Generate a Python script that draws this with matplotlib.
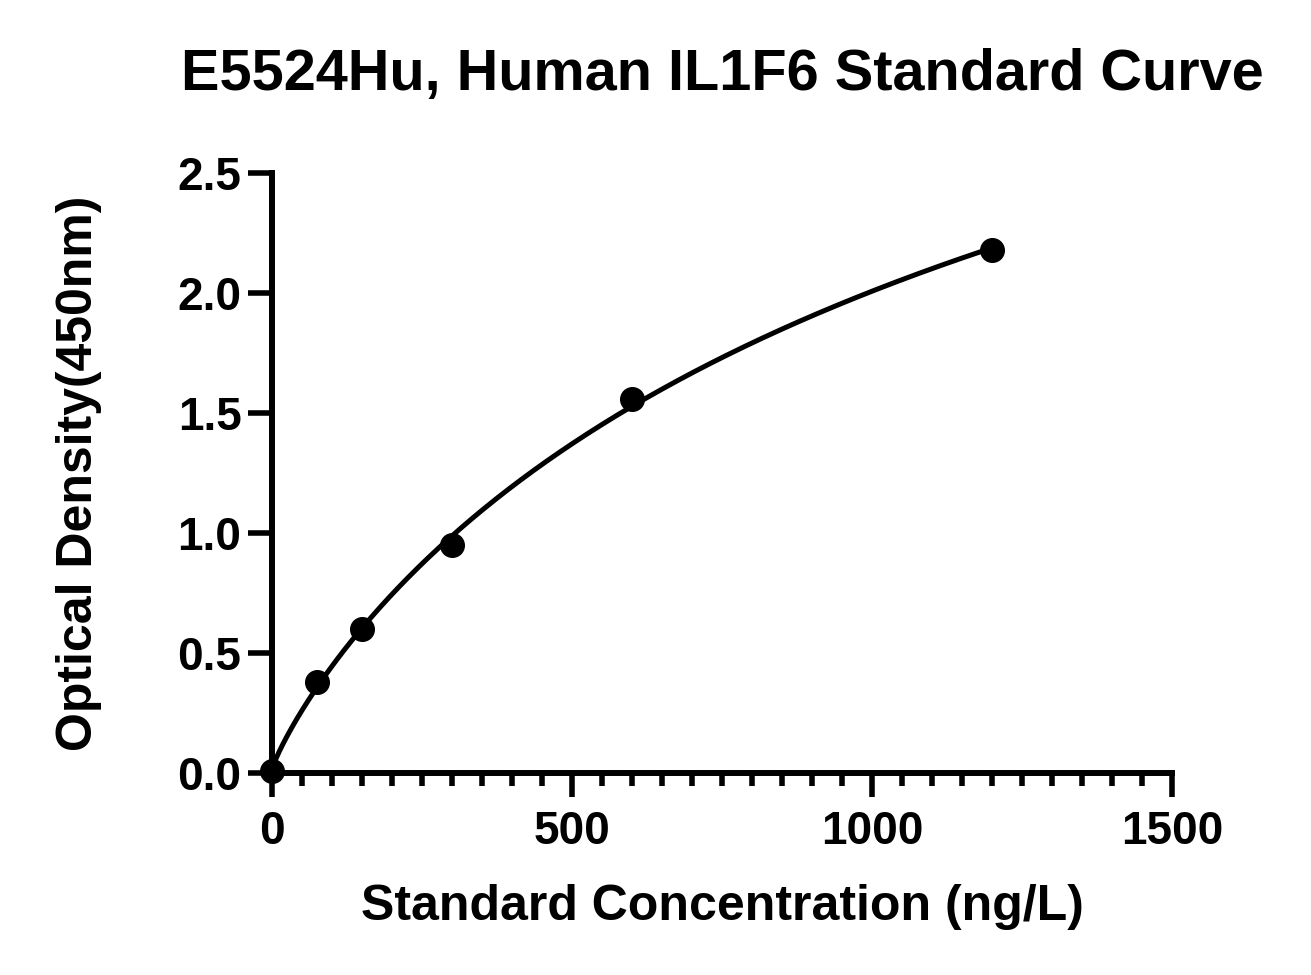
import numpy as np
import matplotlib
matplotlib.use('Agg')
import matplotlib.pyplot as plt
from matplotlib.ticker import MultipleLocator

# standard curve data
conc = [0, 75, 150, 300, 600, 1200]
od = [0.01, 0.38, 0.60, 0.95, 1.56, 2.18]
xticks = [0, 500, 1000, 1500]
yticks = [0.0, 0.5, 1.0, 1.5, 2.0, 2.5]

title = 'E5524Hu, Human IL1F6 Standard Curve'
xlabel = 'Standard Concentration (ng/L)'
ylabel = 'Optical Density(450nm)'

plt.rcParams['font.family'] = ['Liberation Sans', 'DejaVu Sans']
plt.rcParams['font.weight'] = 'bold'

x = np.array(conc, dtype=float)
y = np.array(od, dtype=float)


def fit4pl(x, y):
    # 4PL: y = a + (d-a) * x^b / (c^b + x^b); grid over b, c, linear lstsq for a, d-a
    best = None
    for b in np.linspace(0.5, 1.5, 101):
        for c in np.linspace(200, 8000, 391):
            g = x**b / (c**b + x**b)
            A = np.column_stack([np.ones_like(g), g])
            coef, *_ = np.linalg.lstsq(A, y, rcond=None)
            err = np.sum((A @ coef - y)**2)
            if best is None or err < best[0]:
                best = (err, b, c, coef)
    _, b, c, coef = best
    return lambda t: coef[0] + coef[1] * t**b / (c**b + t**b)


f = fit4pl(x, y)
xs = np.linspace(0, x.max(), 400)

fig = plt.figure(figsize=(13.11, 9.75), dpi=100)
ax = fig.add_axes([272/1311, 1-773/975, 900/1311, 600/975])

ax.plot(xs, f(xs), color='black', lw=3.6, zorder=2)
ax.plot(x, y, 'o', color='black', ms=17, zorder=3, clip_on=False)

ax.set_xlim(0, 1500)
ax.set_ylim(0, 2.5)
ax.set_xticks(xticks)
ax.set_yticks(yticks)
ax.set_yticklabels([f'{v:.1f}' for v in yticks])
ax.xaxis.set_minor_locator(MultipleLocator(50))

for s in ['top', 'right']:
    ax.spines[s].set_visible(False)
for s in ['left', 'bottom']:
    ax.spines[s].set_linewidth(4.3)
    ax.spines[s].set_capstyle('projecting')

ax.tick_params(axis='both', which='major', length=17, width=4.0, labelsize=33)
ax.tick_params(axis='x', which='major', pad=10)
ax.tick_params(axis='y', which='major', pad=5)
ax.tick_params(axis='x', which='minor', length=9, width=4.0)
ax.tick_params(axis='y', which='minor', length=0)

ax.set_xlabel(xlabel, fontsize=36, fontweight='bold', labelpad=21)
ax.set_ylabel(ylabel, fontsize=36, fontweight='bold', labelpad=54)
fig.text(722/1311, 1-75/975, title, fontsize=41.5, fontweight='bold', ha='center', va='center')

fig.savefig('out.png', dpi=100)
